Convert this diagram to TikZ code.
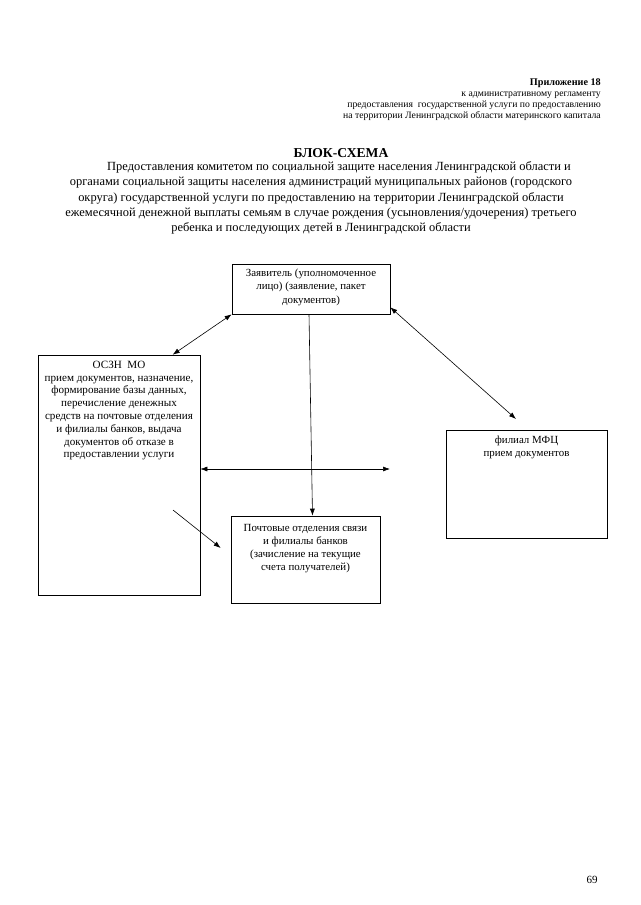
\documentclass[tikz,border=0pt]{standalone}
\usepackage{fontspec}
\setmainfont{Liberation Serif}
\usetikzlibrary{arrows.meta, positioning, calc}

\begin{document}
\begin{tikzpicture}[
  x=1pt, y=-1pt, >={Latex[length=7pt, width=5pt]},
  box/.style={rectangle, draw=black, line width=0.6pt, inner sep=0pt},
  boxtext/.style={align=center, inner sep=0pt, font=\fontsize{10.9}{13.3}\selectfont},
  head/.style={align=right, anchor=north east, inner sep=0pt, font=\fontsize{9.7}{10.7}\selectfont},
  link/.style={<->, line width=0.6pt},
  feed/.style={->, line width=0.6pt},
]
\useasboundingbox (0,0) rectangle (640,905);

% ---- header and title
\node[anchor=north east, inner sep=0pt, font=\fontsize{10.2}{11}\selectfont\bfseries] (app) at (601,79) {Приложение 18};
\node[head] (appsub) at (601,92) {к административному регламенту\\
  предоставления\ \ государственной услуги по предоставлению\\
  на территории Ленинградской области материнского капитала};
\node[inner sep=0pt, font=\fontsize{13.6}{15}\selectfont\bfseries] (title) at (341,153) {БЛОК-СХЕМА};
\node[align=center, inner sep=0pt, font=\fontsize{12.45}{15.25}\selectfont] (subtitle) at (321,198)
  {\hspace*{36pt}Предоставления комитетом по социальной защите населения Ленинградской области и\\
  органами социальной защиты населения администраций муниципальных районов (городского\\
  округа) государственной услуги по предоставлению на территории Ленинградской области\\
  ежемесячной денежной выплаты семьям в случае рождения (усыновления/удочерения) третьего\\
  ребенка и последующих детей в Ленинградской области};

% ---- boxes
\node[box, minimum width=158, minimum height=50]  (zayav) at (311,289) {};
\node[box, minimum width=162, minimum height=240] (oszn)  at (119,475) {};
\node[box, minimum width=161, minimum height=108] (mfc)   at (526.5,484) {};
\node[box, minimum width=149, minimum height=87]  (pocht) at (305.5,559.5) {};

\node[boxtext, below=5pt of zayav.north] (zayavtxt) {Заявитель (уполномоченное\\ лицо) (заявление, пакет\\ документов)};
\node[boxtext, below=6pt of oszn.north, font=\fontsize{11.1}{12.8}\selectfont] (oszntxt) {ОСЗН\ \ МО\\ прием документов, назначение,\\ формирование базы данных,\\
  перечисление денежных\\ средств на почтовые отделения\\ и филиалы банков, выдача\\ документов об отказе в\\ предоставлении услуги};
\node[boxtext, below=6pt of mfc.north] (mfctxt) {филиал МФЦ\\ прием документов};
\node[boxtext, below=8pt of pocht.north] (pochttxt) {Почтовые отделения связи\\ и филиалы банков\\ (зачисление на текущие\\ счета получателей)};

% ---- free ends
\coordinate (mfcend) at (516,419);
\coordinate (hright) at (390,469);
\coordinate (dstart) at (173,510);

% ---- connectors
\draw[link] (zayav.south west) -- ($(oszn.north west)!0.83!(oszn.north east)$);
\draw[link] ($(zayav.south east)+(0,-7)$) -- (mfcend);
\draw[feed] ($(zayav.south)+(-2,0)$) -- ($(pocht.north)+(7,0)$);
\draw[link] (oszn.east |- hright) -- (hright);
\draw[feed] (dstart) -- ($(pocht.west)+(-10,-11.5)$);

% ---- page number
\node[inner sep=0pt, font=\fontsize{11}{13}\selectfont] (pagenum) at (592,880) {69};

\end{tikzpicture}
\end{document}
